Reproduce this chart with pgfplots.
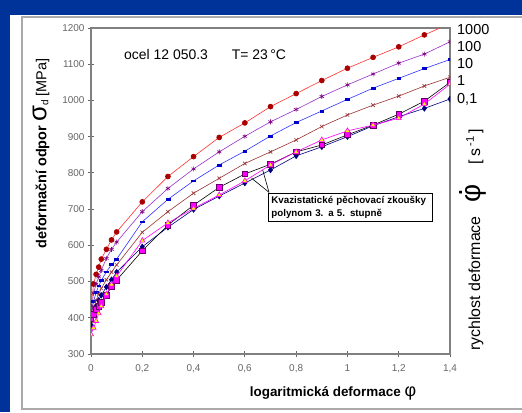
\documentclass[border=0pt]{standalone}
\usepackage{pgfplots}
\pgfplotsset{compat=1.18}
\usepackage{fontspec}
\setmainfont{Liberation Sans}
\definecolor{bgblue}{RGB}{0,51,153}
\definecolor{cred}{RGB}{255,51,51}
\definecolor{cdred}{RGB}{170,0,0}
\definecolor{cpurp}{RGB}{153,51,204}
\definecolor{cdpurp}{RGB}{128,0,128}
\definecolor{cblue}{RGB}{51,51,255}
\definecolor{cdblue}{RGB}{0,0,204}
\definecolor{cbrown}{RGB}{153,51,51}
\definecolor{cnavy}{RGB}{0,0,128}
\definecolor{cmag}{RGB}{255,0,255}
\definecolor{cdmag}{RGB}{102,0,102}
\definecolor{axgray}{RGB}{128,128,128}
\definecolor{framegray}{RGB}{170,170,170}
\begin{document}
\begin{tikzpicture}[x=1bp,y=1bp]
\useasboundingbox (0,0) rectangle (522,412);
\fill[bgblue] (0,0) rectangle (522,412);
\fill[white] (10,0) rectangle (522,397);
\draw[framegray, line width=1.2bp] (522,395) -- (22,395) -- (22,3) -- (522,3);
\begin{axis}[
  at={(91bp,58bp)}, anchor=south west,
  scale only axis, width=359bp, height=326bp,
  xmin=0, xmax=1.4, ymin=300, ymax=1200,
  xtick={0,0.2,0.4,0.6,0.8,1,1.2,1.4},
  ytick={300,400,500,600,700,800,900,1000,1100,1200},
  xtick pos=left, ytick pos=left,
  tick align=center, major tick length=6bp,
  axis line style={draw=axgray, line width=1.3bp},
  tick style={draw=black!60, line width=0.8bp},
  ticklabel style={font=\fontsize{10}{12}\selectfont, text=black!60},
  /pgf/number format/assume math mode=true,
  /pgf/number format/use comma,
  /pgf/number format/1000 sep={},
  xticklabel style={yshift=-4bp},
  clip marker paths=true,
  every axis plot/.append style={line width=0.6bp},
]
% 1000
\addplot[cred, mark=*, mark size=2.5bp, mark options={fill=cdred, draw=cdred}] table {
0 430
0.01 493
0.02 520
0.03 540
0.04 562
0.06 589
0.08 615
0.1 637
0.2 720
0.3 790
0.4 845
0.5 898
0.6 938
0.7 983
0.8 1019
0.9 1055
1.0 1089
1.1 1119
1.2 1148
1.3 1181
1.4 1212
};
% 100
\addplot[cpurp, mark=asterisk, mark size=2.5bp, mark options={draw=cdpurp, line width=0.6bp}] table {
0 415
0.01 468
0.02 493
0.03 513
0.04 531
0.06 564
0.08 589
0.1 609
0.2 693
0.3 757
0.4 811
0.5 858
0.6 901
0.7 941
0.8 975
0.9 1011
1.0 1043
1.1 1073
1.2 1103
1.3 1128
1.4 1162
};
% 10
\addplot[cblue, mark=square*, mark size=1.1bp, mark options={fill=cdblue, draw=cdblue, xscale=1.7, yscale=0.8}] table {
0 400
0.01 445
0.02 470
0.03 488
0.04 503
0.06 527
0.08 547
0.1 562
0.2 665
0.3 727
0.4 778
0.5 822
0.6 860
0.7 902
0.8 939
0.9 971
1.0 1003
1.1 1034
1.2 1061
1.3 1088
1.4 1113
};
% 1
\addplot[cbrown, mark=x, mark size=2.5bp, mark options={draw=cbrown, line width=0.6bp}] table {
0 390
0.01 425
0.02 448
0.03 466
0.04 481
0.06 505
0.08 526
0.1 546
0.2 636
0.3 693
0.4 744
0.5 785
0.6 826
0.7 858
0.8 891
0.9 928
1.0 960
1.1 987
1.2 1012
1.3 1040
1.4 1064
};
% 0.1
\addplot[cnavy, mark=diamond*, mark size=2.8bp, mark options={fill=cnavy, draw=cnavy}] table {
0 380
0.01 412
0.02 432
0.03 448
0.04 462
0.06 485
0.08 505
0.1 526
0.2 596
0.3 650
0.4 699
0.5 736
0.6 772
0.7 808
0.8 847
0.9 872
1.0 900
1.1 930
1.2 955
1.3 978
1.4 1004
};
% squares
\addplot[black, mark=square*, mark size=2.8bp, mark options={fill=cmag, draw=cdmag, line width=0.7bp}] table {
0 398
0.01 410
0.02 423
0.03 432
0.04 442
0.06 462
0.08 486
0.1 504
0.2 585
0.3 656
0.4 711
0.5 760
0.6 797
0.7 824
0.8 858
0.9 877
1.0 905
1.1 932
1.2 962
1.3 998
1.4 1050
};
% triangles
\addplot[cmag, mark=triangle*, mark size=3bp, mark options={fill=yellow, draw=cmag, line width=0.6bp}] table {
0 354
0.01 372
0.02 391
0.03 412
0.04 432
0.06 465
0.08 492
0.1 515
0.2 613
0.3 662
0.4 702
0.5 739
0.6 778
0.7 822
0.8 858
0.9 891
1.0 916
1.1 932
1.2 951
1.3 990
1.4 1045
};
\end{axis}
% texts
\node[anchor=west, inner sep=0, font=\fontsize{14}{16}\selectfont] at (124,357) {ocel 12 050.3};
\node[anchor=west, inner sep=0, font=\fontsize{14}{16}\selectfont] at (231.7,357) {T= 23\,°C};
\begin{scope}[every node/.style={anchor=west, inner sep=0, font=\fontsize{14.5}{16}\selectfont}]
\node at (457,382) {1000};
\node at (457,365.3) {100};
\node at (457,348.7) {10};
\node at (457,331) {1};
\node at (457,312.7) {0,1};
\end{scope}
\node[rotate=90, inner sep=0] at (41,258.5) {\fontsize{14.5}{17}\selectfont\bfseries deformační odpor \mdseries{\fontsize{26}{28}\selectfont σ}\raisebox{-2bp}{\fontsize{10}{11}\selectfont d} [MPa]};
\node[inner sep=0] at (333,19) {\fontsize{13.5}{15}\selectfont\bfseries logaritmická deformace \mdseries{\fontsize{18}{19}\selectfont φ}};
\node[rotate=90, anchor=base west, inner sep=0] at (480,61) {\fontsize{16}{18}\selectfont rychlost deformace\hspace{14bp}{\fontsize{28}{30}\selectfont\ooalign{φ\cr\hidewidth\raisebox{0.62em}{.}\hidewidth\cr}}\hspace{20bp}[\,s\,\textsuperscript{-1}\,]};
% annotation
\draw[black, line width=0.6bp] (269,219.7) -- (262.7,242);
\draw[black, line width=0.6bp] (269,219.7) -- (251.7,233.7);
\node[draw=black, line width=0.7bp, fill=white, anchor=north west, inner xsep=3bp, inner ysep=3bp, text width=158bp, align=left, font=\bfseries\fontsize{9.8}{13}\selectfont] at (268,219) {Kvazistatické pěchovací zkoušky\\polynom 3. a 5. stupně};
\end{tikzpicture}
\end{document}
